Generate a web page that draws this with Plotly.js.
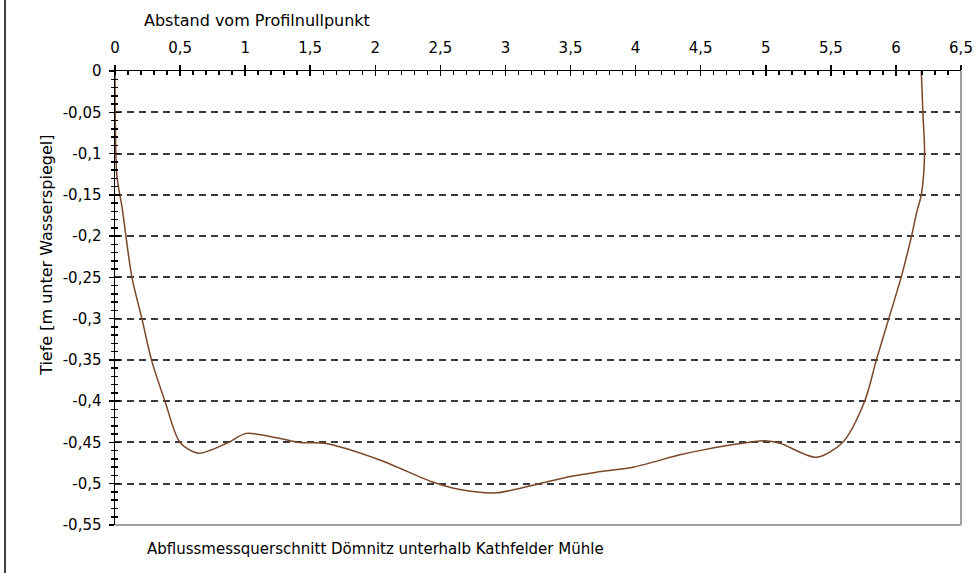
<!DOCTYPE html>
<html>
<head>
<meta charset="utf-8">
<script src="https://cdn.plot.ly/plotly-3.0.1.min.js"></script>
<style>
  html, body { margin: 0; padding: 0; background: #fff; }
  #plot { width: 978px; height: 573px; }
</style>
</head>
<body>
<div id="plot"></div>
<script>
// Profile points: distance [m], depth [m below water level]
const distance = [0, 0.002, 0.015, 0.054, 0.13, 0.207, 0.28, 0.384, 0.5, 0.64, 0.87, 1.01, 1.42, 1.61, 2.04, 2.44, 2.65, 2.93, 3.26, 3.51, 3.70, 3.98, 4.34, 4.52, 4.82, 4.99, 5.11, 5.39, 5.59, 5.76, 5.85, 5.945, 6.04, 6.12, 6.16, 6.195, 6.22, 6.207, 6.195];
const depth = [0, -0.06, -0.128, -0.165, -0.25, -0.30, -0.35, -0.40, -0.45, -0.463, -0.45, -0.439, -0.45, -0.451, -0.4715, -0.498, -0.507, -0.511, -0.50, -0.491, -0.486, -0.480, -0.465, -0.459, -0.451, -0.448, -0.451, -0.468, -0.45, -0.40, -0.35, -0.30, -0.25, -0.20, -0.171, -0.15, -0.10, -0.05, 0];

// Tick labels
const xTickVals = [0, 0.5, 1, 1.5, 2, 2.5, 3, 3.5, 4, 4.5, 5, 5.5, 6, 6.5];
const xTickText = ['0', '0,5', '1', '1,5', '2', '2,5', '3', '3,5', '4', '4,5', '5', '5,5', '6', '6,5'];
const yTickVals = [0, -0.05, -0.1, -0.15, -0.2, -0.25, -0.3, -0.35, -0.4, -0.45, -0.5, -0.55];
const yTickText = ['0', '-0,05', '-0,1', '-0,15', '-0,2', '-0,25', '-0,3', '-0,35', '-0,4', '-0,45', '-0,5', '-0,55'];
const yGridVals = [-0.05, -0.1, -0.15, -0.2, -0.25, -0.3, -0.35, -0.4, -0.45, -0.5];

const FONT = 'DejaVu Sans, Verdana, sans-serif';

const data = [
    {
        x: distance,
        y: depth,
        type: 'scatter',
        mode: 'lines',
        line: { color: 'rgb(120,72,40)', width: 1.5, shape: 'spline', smoothing: 0.8 },
        hoverinfo: 'skip',
        showlegend: false
    },
    {
        // carries the overlay axes (crossing ticks, dashed grid)
        x: distance,
        y: depth,
        xaxis: 'x2',
        yaxis: 'y2',
        type: 'scatter',
        mode: 'lines',
        line: { width: 0 },
        opacity: 0,
        hoverinfo: 'skip',
        showlegend: false
    }
];

const layout = {
    width: 978,
    height: 573,
    margin: { l: 115, r: 17, t: 71, b: 48 },
    paper_bgcolor: '#fff',
    plot_bgcolor: '#fff',
    font: { family: FONT, size: 15, color: '#000' },
    showlegend: false,
    hovermode: false,
    xaxis: {
        side: 'top',
        range: [0, 6.5],
        tickmode: 'array',
        tickvals: xTickVals,
        ticktext: xTickText,
        ticks: 'outside',
        ticklen: 5,
        tickwidth: 1.5,
        tickcolor: '#000',
        ticklabelstandoff: 6,
        showline: true,
        linecolor: '#000',
        linewidth: 1.5,
        showgrid: false,
        zeroline: false,
        minor: { tickmode: 'linear', tick0: 0, dtick: 0.1, ticks: 'inside', ticklen: 4, tickwidth: 1.5, tickcolor: '#000', showgrid: false },
        fixedrange: true
    },
    xaxis2: {
        overlaying: 'x',
        matches: 'x',
        side: 'top',
        anchor: 'y2',
        tickmode: 'array',
        tickvals: xTickVals,
        showticklabels: false,
        ticks: 'inside',
        ticklen: 5,
        tickwidth: 1.5,
        tickcolor: '#000',
        showline: false,
        showgrid: false,
        zeroline: false,
        fixedrange: true
    },
    yaxis: {
        range: [-0.55, 0],
        tickmode: 'array',
        tickvals: yTickVals,
        ticktext: yTickText,
        ticks: 'outside',
        ticklen: 5,
        tickwidth: 1.5,
        tickcolor: '#000',
        ticklabelstandoff: 4,
        showline: true,
        linecolor: '#000',
        linewidth: 1.5,
        showgrid: false,
        zeroline: false,
        minor: { tickmode: 'linear', tick0: 0, dtick: 0.01, ticks: 'outside', ticklen: 3, tickwidth: 1.5, tickcolor: '#000', showgrid: false },
        fixedrange: true
    },
    yaxis2: {
        overlaying: 'y',
        matches: 'y',
        side: 'left',
        anchor: 'x2',
        tickmode: 'array',
        tickvals: yGridVals,
        showticklabels: false,
        ticks: 'inside',
        ticklen: 5,
        tickwidth: 1.5,
        tickcolor: '#000',
        showline: false,
        showgrid: true,
        gridcolor: '#3a3a3a',
        gridwidth: 2,
        griddash: '7px,5px',
        zeroline: false,
        minor: { tickmode: 'linear', tick0: 0, dtick: 0.01, ticks: 'inside', ticklen: 3, tickwidth: 1.5, tickcolor: '#000', showgrid: false },
        fixedrange: true
    },
    shapes: [
        // grey frame on the right and bottom of the plot area
        { type: 'line', xref: 'paper', yref: 'paper', x0: 1, x1: 1, y0: 0, y1: 1, line: { color: '#a0a0a0', width: 2 } },
        { type: 'line', xref: 'paper', yref: 'paper', x0: 0, x1: 1, y0: 0, y1: 0, line: { color: '#a0a0a0', width: 2 } },
        // window edge on the far left
        { type: 'line', xref: 'paper', yref: 'paper', x0: -0.130, x1: -0.130, y0: -0.11, y1: 1.16, line: { color: '#404040', width: 2 } }
    ],
    annotations: [
        {
            text: 'Abstand vom Profilnullpunkt',
            xref: 'paper', yref: 'paper',
            x: 0.168, y: 1.112,
            xanchor: 'center', yanchor: 'middle',
            showarrow: false,
            font: { family: FONT, size: 16, color: '#000' }
        },
        {
            text: 'Tiefe [m unter Wasserspiegel]',
            xref: 'paper', yref: 'paper',
            x: -0.0804, y: 0.595,
            xanchor: 'center', yanchor: 'middle',
            textangle: -90,
            showarrow: false,
            font: { family: FONT, size: 16, color: '#000' }
        },
        {
            text: 'Abflussmessquerschnitt Dömnitz unterhalb Kathfelder Mühle',
            xref: 'paper', yref: 'paper',
            x: 0.0355, y: -0.0529,
            xanchor: 'left', yanchor: 'middle',
            showarrow: false,
            font: { family: FONT, size: 15, color: '#000' }
        }
    ]
};

Plotly.newPlot('plot', data, layout, { displayModeBar: false, staticPlot: true });
</script>
</body>
</html>
